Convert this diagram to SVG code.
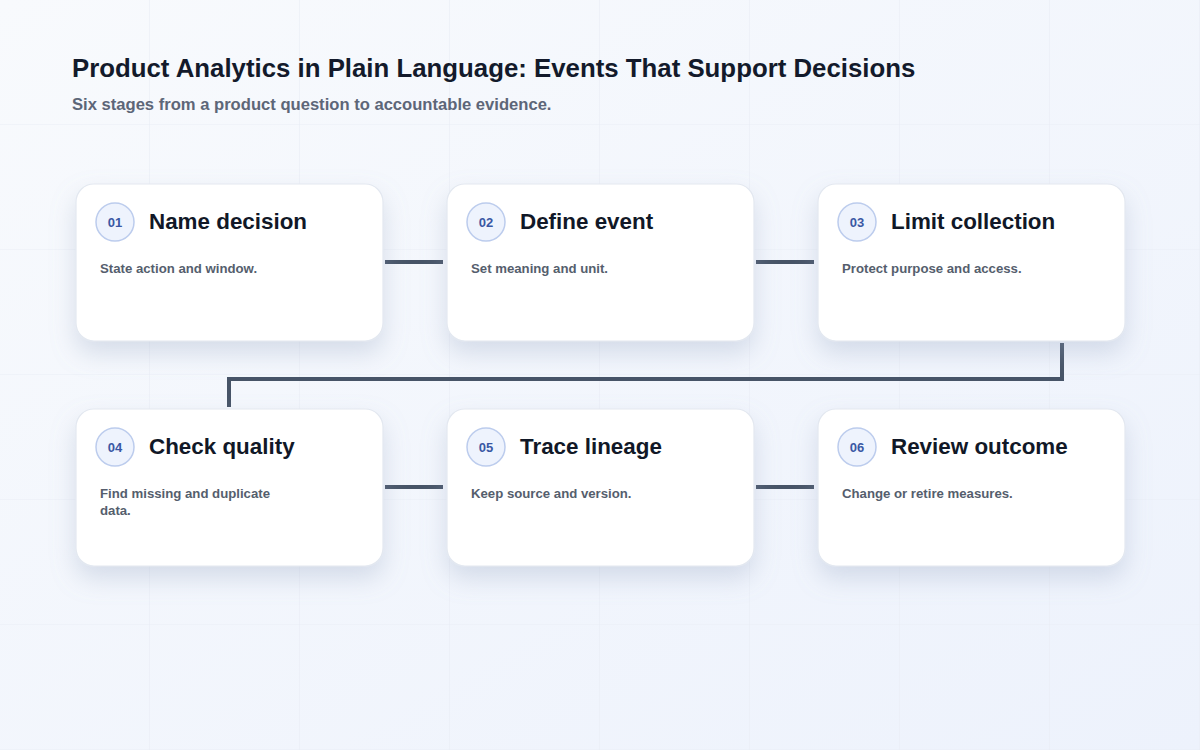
<svg xmlns="http://www.w3.org/2000/svg" width="1200" height="750" viewBox="0 0 1200 750">
  <defs>
    <linearGradient id="bg" x1="0" y1="0" x2="1" y2="1">
      <stop offset="0" stop-color="#f8fafd"/>
      <stop offset="1" stop-color="#edf2fc"/>
    </linearGradient>
    <pattern id="grid" width="150" height="125" patternUnits="userSpaceOnUse">
      <path d="M150 0 V125 M0 125 H150" fill="none" stroke="#e9edf5" stroke-width="1.2"/>
    </pattern>
    <filter id="shadow" x="-20%" y="-20%" width="140%" height="170%">
      <feDropShadow dx="0" dy="12" stdDeviation="12" flood-color="#94a3c0" flood-opacity="0.32"/>
    </filter>
  </defs>
  <style>
    .card { fill: #ffffff; stroke: #e3e8f0; stroke-width: 1.2; filter: url(#shadow); }
    .badge { fill: #eef3fd; stroke: #bccced; stroke-width: 1.5; }
    .num { font-family: "Liberation Sans", Arial, sans-serif; font-weight: bold; font-size: 13px; fill: #3a58a4; text-anchor: middle; }
    .ttl { font-family: "Liberation Sans", Arial, sans-serif; font-weight: bold; font-size: 22.4px; fill: #111827; }
    .desc { font-family: "Liberation Sans", Arial, sans-serif; font-weight: bold; font-size: 13.2px; fill: #555e6d; }
    .conn { fill: none; stroke: #475467; stroke-width: 4; stroke-linecap: butt; stroke-linejoin: miter; }
  </style>
  <rect width="1200" height="750" fill="url(#bg)"/>
  <rect width="1200" height="750" fill="url(#grid)"/>

  <text x="72" y="77" font-family="'Liberation Sans', Arial, sans-serif" font-weight="bold" font-size="25.8" fill="#131a2b">Product Analytics in Plain Language: Events That Support Decisions</text>
  <text x="72" y="110" font-family="'Liberation Sans', Arial, sans-serif" font-weight="bold" font-size="16.6" fill="#5d6678">Six stages from a product question to accountable evidence.</text>

  <g id="connectors">
    <path class="conn" d="M385 262 H443"/>
    <path class="conn" d="M756 262 H814"/>
    <path class="conn" d="M1062 343 V379 H229 V407"/>
    <path class="conn" d="M385 487 H443"/>
    <path class="conn" d="M756 487 H814"/>
  </g>

  <g id="node-01">
    <rect class="card" x="76" y="184" width="307" height="157" rx="18"/>
    <circle class="badge" cx="115" cy="222" r="19"/>
    <text class="num" x="115" y="226.5">01</text>
    <text class="ttl" x="149" y="229">Name decision</text>
    <text class="desc" x="100" y="273">State action and window.</text>
  </g>
  <g id="node-02">
    <rect class="card" x="447" y="184" width="307" height="157" rx="18"/>
    <circle class="badge" cx="486" cy="222" r="19"/>
    <text class="num" x="486" y="226.5">02</text>
    <text class="ttl" x="520" y="229">Define event</text>
    <text class="desc" x="471" y="273">Set meaning and unit.</text>
  </g>
  <g id="node-03">
    <rect class="card" x="818" y="184" width="307" height="157" rx="18"/>
    <circle class="badge" cx="857" cy="222" r="19"/>
    <text class="num" x="857" y="226.5">03</text>
    <text class="ttl" x="891" y="229">Limit collection</text>
    <text class="desc" x="842" y="273">Protect purpose and access.</text>
  </g>
  <g id="node-04">
    <rect class="card" x="76" y="409" width="307" height="157" rx="18"/>
    <circle class="badge" cx="115" cy="447" r="19"/>
    <text class="num" x="115" y="451.5">04</text>
    <text class="ttl" x="149" y="454">Check quality</text>
    <text class="desc" x="100" y="498">Find missing and duplicate</text>
    <text class="desc" x="100" y="515">data.</text>
  </g>
  <g id="node-05">
    <rect class="card" x="447" y="409" width="307" height="157" rx="18"/>
    <circle class="badge" cx="486" cy="447" r="19"/>
    <text class="num" x="486" y="451.5">05</text>
    <text class="ttl" x="520" y="454">Trace lineage</text>
    <text class="desc" x="471" y="498">Keep source and version.</text>
  </g>
  <g id="node-06">
    <rect class="card" x="818" y="409" width="307" height="157" rx="18"/>
    <circle class="badge" cx="857" cy="447" r="19"/>
    <text class="num" x="857" y="451.5">06</text>
    <text class="ttl" x="891" y="454">Review outcome</text>
    <text class="desc" x="842" y="498">Change or retire measures.</text>
  </g>
</svg>
